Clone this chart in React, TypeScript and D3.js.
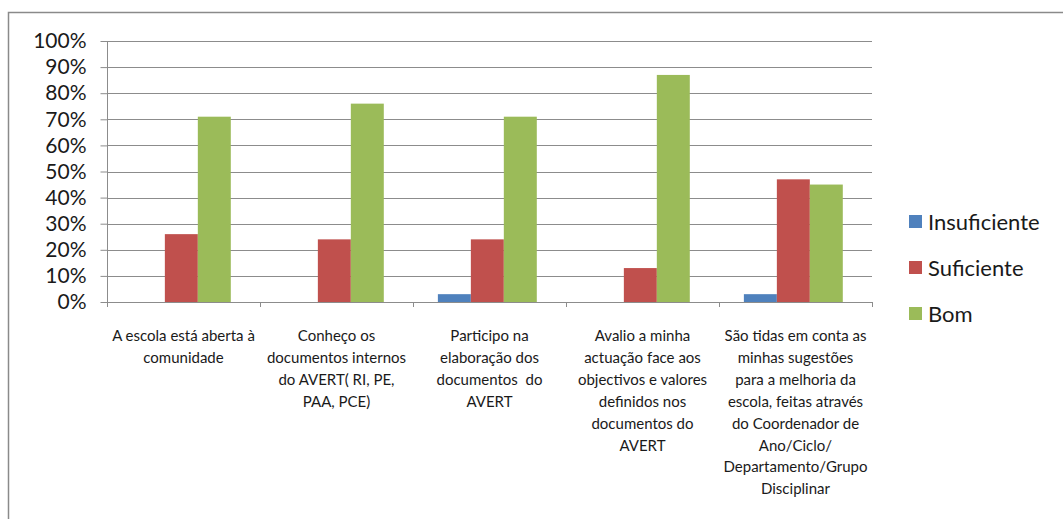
import React, { useEffect, useRef } from "react";
import * as d3 from "d3";

const categories = [
  ["A escola está aberta à", "comunidade"],
  ["Conheço os", "documentos internos", "do AVERT( RI, PE,", "PAA, PCE)"],
  ["Participo na", "elaboração dos", "documentos  do", "AVERT"],
  ["Avalio a minha", "actuação face aos", "objectivos e valores", "definidos nos", "documentos do", "AVERT"],
  [
    "São tidas em conta as",
    "minhas sugestões",
    "para a melhoria da",
    "escola, feitas através",
    "do Coordenador de",
    "Ano/Ciclo/",
    "Departamento/Grupo",
    "Disciplinar",
  ],
];

const seriesNames = ["Insuficiente", "Suficiente", "Bom"];
const insuficiente = [0, 0, 0.03, 0, 0.03];
const suficiente = [0.26, 0.24, 0.24, 0.13, 0.47];
const bom = [0.71, 0.76, 0.71, 0.87, 0.45];
const yTicks = [0, 0.1, 0.2, 0.3, 0.4, 0.5, 0.6, 0.7, 0.8, 0.9, 1];

const colors = ["#4F81BD", "#C0504D", "#9BBB59"];
const font = "Lato, 'Open Sans', sans-serif";

export default function App() {
  const ref = useRef<SVGSVGElement>(null);

  useEffect(() => {
    const svg = d3.select(ref.current);
    svg.selectAll("*").remove();

    const values = [insuficiente, suficiente, bom];
    const keys = categories.map((_, i) => String(i));

    const x = d3.scaleBand().domain(keys).range([107, 872]);
    const inner = d3
      .scaleBand()
      .domain(seriesNames)
      .range([0, x.bandwidth()])
      .paddingInner(0)
      .paddingOuter(0.82)
      .align(0.46);
    const y = d3.scaleLinear().domain([0, 1]).range([302, 41]);

    // outer frame (extends past the window)
    svg
      .append("rect")
      .attr("x", 8.5)
      .attr("y", 12.5)
      .attr("width", 1100)
      .attr("height", 600)
      .attr("fill", "#fff")
      .attr("stroke", "#8a8a8a")
      .attr("stroke-width", 1.5);

    // gridlines
    svg
      .append("g")
      .selectAll("line")
      .data(yTicks.slice(1))
      .join("line")
      .attr("x1", 107)
      .attr("x2", 872)
      .attr("y1", (d) => Math.round(y(d)) + 0.5)
      .attr("y2", (d) => Math.round(y(d)) + 0.5)
      .attr("stroke", "#8c8c8c");

    // bars
    values.forEach((vals, s) => {
      svg
        .append("g")
        .selectAll("rect")
        .data(vals)
        .join("rect")
        .attr("x", (_, i) => (x(keys[i]) as number) + (inner(seriesNames[s]) as number))
        .attr("width", inner.bandwidth())
        .attr("y", (d) => y(d))
        .attr("height", (d) => y(0) - y(d))
        .attr("fill", colors[s]);
    });

    // y axis
    const yAxis = svg
      .append("g")
      .attr("transform", "translate(107.5,0)")
      .call(
        d3
          .axisLeft(y)
          .tickValues(yTicks)
          .tickSize(7)
          .tickPadding(14)
          .tickFormat((d) => `${Math.round((d as number) * 100)}%`)
      );
    yAxis.select(".domain").attr("stroke", "#8c8c8c").attr("d", `M0,${y(1)}V${y(0)}`);
    yAxis.selectAll(".tick line").attr("stroke", "#8c8c8c");
    yAxis
      .selectAll(".tick text")
      .attr("font-family", font)
      .attr("font-size", 21)
      .attr("fill", "#1a1a1a");

    // x axis baseline and ticks
    const bounds = keys.map((k) => x(k) as number).concat([872]);
    const xg = svg.append("g");
    xg.append("line")
      .attr("x1", 107)
      .attr("x2", 872)
      .attr("y1", Math.round(y(0)) + 0.5)
      .attr("y2", Math.round(y(0)) + 0.5)
      .attr("stroke", "#8c8c8c");
    xg.selectAll("line.t")
      .data(bounds)
      .join("line")
      .attr("class", "t")
      .attr("x1", (d) => Math.round(d) + 0.5)
      .attr("x2", (d) => Math.round(d) + 0.5)
      .attr("y1", y(0))
      .attr("y2", y(0) + 5)
      .attr("stroke", "#8c8c8c");

    // category labels
    const labels = svg
      .append("g")
      .selectAll("text")
      .data(categories)
      .join("text")
      .attr("text-anchor", "middle")
      .attr("font-family", font)
      .attr("font-size", 15)
      .attr("fill", "#1a1a1a");
    labels.each(function (lines, i) {
      const cx = (x(keys[i]) as number) + x.bandwidth() / 2;
      d3.select(this)
        .selectAll("tspan")
        .data(lines)
        .join("tspan")
        .attr("x", cx)
        .attr("y", (_, j) => 341 + j * 21.9)
        .attr("xml:space", "preserve")
        .text((d) => d);
    });

    // legend
    const leg = svg
      .append("g")
      .selectAll("g")
      .data(seriesNames)
      .join("g")
      .attr("transform", (_, i) => `translate(909,${222 + i * 46})`);
    leg
      .append("rect")
      .attr("x", 0)
      .attr("y", -7)
      .attr("width", 13)
      .attr("height", 13)
      .attr("fill", (_, i) => colors[i]);
    leg
      .append("text")
      .attr("x", 19)
      .attr("y", 7.5)
      .attr("font-family", font)
      .attr("font-size", 22)
      .attr("fill", "#1a1a1a")
      .text((d) => d);
  }, []);

  return (
    <svg
      ref={ref}
      width={1063}
      height={519}
      style={{ position: "absolute", left: 0, top: 0, background: "#fff" }}
    />
  );
}
